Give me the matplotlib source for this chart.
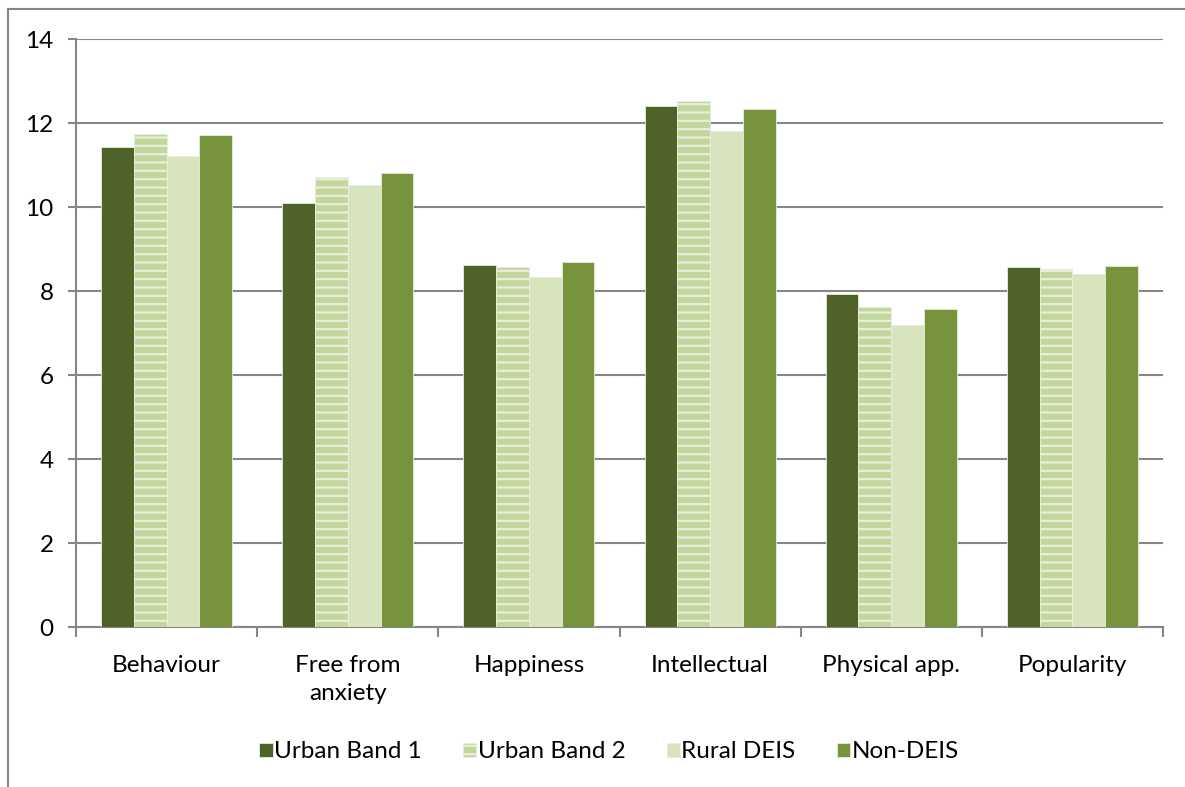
import matplotlib.pyplot as plt
import numpy as np
from matplotlib.lines import Line2D

categories = ['Behaviour', 'Free from\nanxiety', 'Happiness', 'Intellectual', 'Physical app.', 'Popularity']
series = ['Urban Band 1', 'Urban Band 2', 'Rural DEIS', 'Non-DEIS']
urban1 = [11.43, 10.10, 8.63, 12.41, 7.94, 8.56]
urban2 = [11.74, 10.72, 8.58, 12.53, 7.61, 8.53]
rural = [11.22, 10.53, 8.34, 11.81, 7.18, 8.41]
nondeis = [11.72, 10.82, 8.70, 12.34, 7.58, 8.60]
yticks = [0, 2, 4, 6, 8, 10, 12, 14]

plt.rcParams['font.family'] = ['Lato', 'DejaVu Sans']
plt.rcParams['hatch.linewidth'] = 1.6
plt.rcParams['hatch.color'] = '#77933C'

fig = plt.figure(figsize=(11.85, 7.87), dpi=100)
ax = fig.add_axes([76/1185, 1 - 627/787, (1163-76)/1185, (627-39)/787])

# outer chart frame (only left and top visible)
fig.add_artist(Line2D([8/1185, 8/1185], [0, 1 - 9/787], color='#868686', lw=1.5, transform=fig.transFigure))
fig.add_artist(Line2D([8/1185, 1], [1 - 9/787, 1 - 9/787], color='#868686', lw=1.5, transform=fig.transFigure))

x = np.arange(len(categories))
w = 0.181
vals = [urban1, urban2, rural, nondeis]
colors = ['#4F6228', '#C3D69B', '#D7E4BD', '#77933C']
hatches = [None, '--', None, None]
for i in range(4):
    ax.bar(x + (i - 1.5) * w, vals[i], w, color=colors[i], hatch=hatches[i],
           edgecolor='#E8EEDC', linewidth=0.6, label=series[i], zorder=3)

fs = 17.5
ax.set_xlim(-0.5, len(categories) - 0.5)
ax.set_ylim(0, 14)
ax.set_yticks(yticks)
ax.yaxis.grid(True, color='#868686', lw=1.5, zorder=0)
ax.set_xticks(x)
ax.set_xticklabels(categories, fontsize=fs, linespacing=1.45)
ax.tick_params(axis='x', length=0, pad=20)
ax.set_xticks(np.arange(len(categories) + 1) - 0.5, minor=True)
ax.tick_params(axis='x', which='minor', length=7, width=1.5, color='#868686')
ax.tick_params(axis='y', length=6, width=1.5, color='#868686', labelsize=fs, pad=10)
for s in ['top', 'right']:
    ax.spines[s].set_visible(False)
for s in ['left', 'bottom']:
    ax.spines[s].set_color('#868686')
    ax.spines[s].set_linewidth(1.5)

ax.legend(loc='center', bbox_to_anchor=(609 / 1185, (787 - 752) / 787), bbox_transform=fig.transFigure,
          ncol=4, frameon=False, fontsize=fs, handlelength=0.55, handleheight=0.55,
          handletextpad=0.05, columnspacing=1.7)

fig.savefig('out.png', dpi=100)
